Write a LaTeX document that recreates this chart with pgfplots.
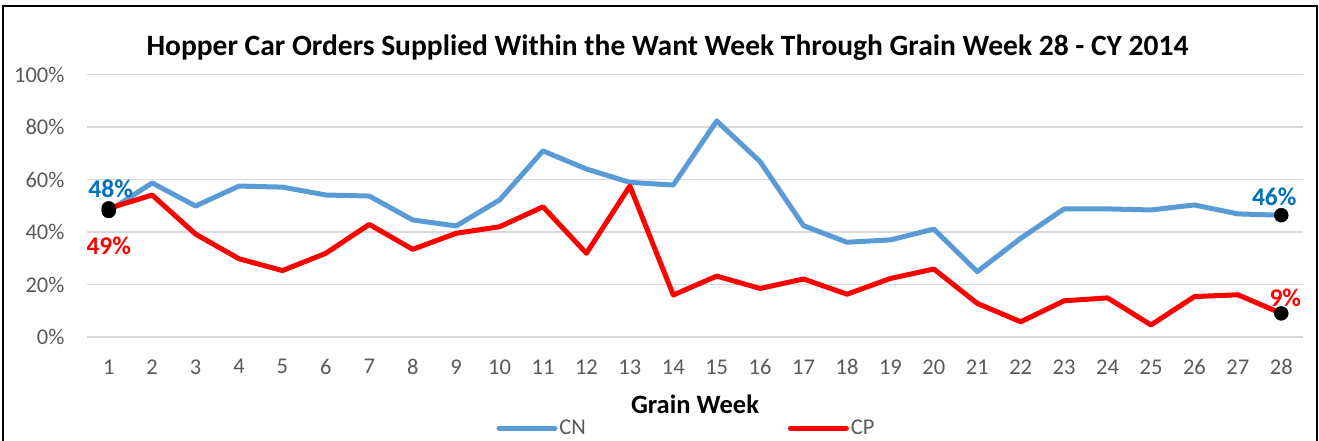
\documentclass[border=0pt]{standalone}
\usepackage{fontspec}
\setmainfont{Carlito}
\usepackage{pgfplots}
\pgfplotsset{compat=1.18}
\definecolor{cnblue}{HTML}{5B9BD5}
\definecolor{cnlabel}{HTML}{0070C0}
\definecolor{cpred}{HTML}{FF0000}
\definecolor{ticktext}{HTML}{595959}
\definecolor{gridgray}{HTML}{D9D9D9}
\begin{document}
\begin{tikzpicture}
\useasboundingbox (0,0) rectangle (1319pt,-440pt);
\draw[line width=2.2pt] (3pt,-480pt) -- (3pt,-6pt) -- (1317pt,-6pt) -- (1317pt,-480pt);
\node[anchor=base, font=\fontsize{29.5}{34}\selectfont\bfseries] at (667.5pt,-55pt) {Hopper Car Orders Supplied Within the Want Week Through Grain Week 28 - CY 2014};
\begin{axis}[
  at={(87pt,-337pt)}, anchor=south west,
  scale only axis, width=1216pt, height=262.5pt,
  xmin=0.5, xmax=28.5, ymin=0, ymax=100,
  xtick={1,...,28}, ytick={0,20,...,100},
  axis line style={draw=none}, tick style={draw=none},
  ymajorgrids, grid style={gridgray, line width=1.5pt},
  /pgf/number format/assume math mode=true,
  yticklabel={\pgfmathprintnumber{\tick}\%},
  ticklabel style={font=\fontsize{22.5}{26}\selectfont, text=ticktext},
  yticklabel style={xshift=-19pt},
  xticklabel style={yshift=-19pt},
  xlabel={Grain Week},
  xlabel style={at={(axis description cs:0.5,-0.29)}, anchor=base, font=\fontsize{26.5}{30}\selectfont\bfseries},
  legend columns=2,
  legend style={at={(axis description cs:0.493,-0.347)}, anchor=center, draw=none, fill=none,
    font=\fontsize{22.5}{26}\selectfont, text=ticktext,
    /tikz/every even column/.append style={column sep=200pt}},
  legend image code/.code={\draw[#1, line cap=round] (0pt,0pt) -- (56pt,0pt);},
]
\addplot[cnblue, line width=5pt, line join=round] coordinates {
(1,48) (2,58.7) (3,49.9) (4,57.5) (5,57.1) (6,54.1) (7,53.7) (8,44.6) (9,42.3) (10,52.2)
(11,70.9) (12,64.0) (13,58.9) (14,57.9) (15,82.3) (16,66.8) (17,42.4) (18,36.1) (19,37.0) (20,41.1)
(21,24.9) (22,37.6) (23,48.8) (24,48.8) (25,48.4) (26,50.3) (27,46.9) (28,46.4)};
\addlegendentry{CN}
\addplot[cpred, line width=5pt, line join=round] coordinates {
(1,49) (2,54.1) (3,39.2) (4,29.8) (5,25.3) (6,31.9) (7,42.9) (8,33.4) (9,39.5) (10,42.0)
(11,49.6) (12,31.9) (13,57.5) (14,16.0) (15,23.2) (16,18.5) (17,22.1) (18,16.3) (19,22.3) (20,25.9)
(21,12.8) (22,5.8) (23,13.8) (24,14.9) (25,4.6) (26,15.4) (27,16.1) (28,9)};
\addlegendentry{CP}
\addplot[only marks, mark=*, mark size=7pt, black, forget plot] coordinates {(1,48) (1,49) (28,46.4) (28,9)};
\node[font=\fontsize{25.5}{30}\selectfont\bfseries, text=cnlabel] at (axis cs:1,48) [xshift=2pt, yshift=22pt] {48\%};
\node[font=\fontsize{25.5}{30}\selectfont\bfseries, text=cpred] at (axis cs:1,49) [yshift=-37pt] {49\%};
\node[font=\fontsize{25.5}{30}\selectfont\bfseries, text=cnlabel] at (axis cs:28,46.4) [xshift=-7pt, yshift=18pt] {46\%};
\node[font=\fontsize{25.5}{30}\selectfont\bfseries, text=cpred] at (axis cs:28,9) [xshift=4pt, yshift=16pt] {9\%};
\end{axis}
\end{tikzpicture}
\end{document}
